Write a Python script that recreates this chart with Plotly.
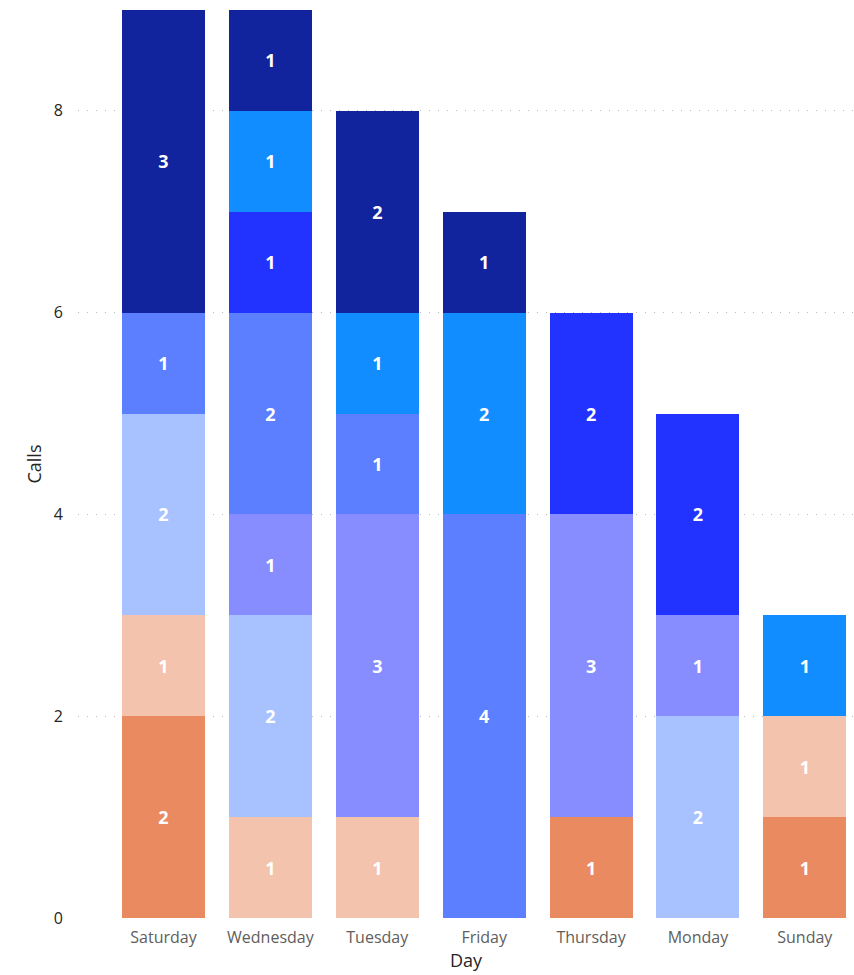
import plotly.graph_objects as go

days = ["Saturday", "Wednesday", "Tuesday", "Friday", "Thursday", "Monday", "Sunday"]

series_names = ["Group 1", "Group 2", "Group 3", "Group 4", "Group 5", "Group 6", "Group 7", "Group 8"]
g1 = [2, None, None, None, 1, None, 1]
g2 = [1, 1, 1, None, None, None, 1]
g3 = [2, 2, None, None, None, 2, None]
g4 = [None, 1, 3, None, 3, 1, None]
g5 = [1, 2, 1, 4, None, None, None]
g6 = [None, 1, None, None, 2, 2, None]
g7 = [None, 1, 1, 2, None, None, 1]
g8 = [3, 1, 2, 1, None, None, None]
values = [g1, g2, g3, g4, g5, g6, g7, g8]
colors = ["#EA8A61", "#F3C3AD", "#A8C2FF", "#878DFF", "#5B7FFF", "#2233FF", "#118DFF", "#12239E"]

font_family = "Segoe UI, Open Sans, sans-serif"

fig = go.Figure()
for name, vals, col in zip(series_names, values, colors):
    fig.add_trace(go.Bar(
        x=days, y=vals, name=name,
        marker=dict(color=col, line=dict(width=0)),
        text=vals, texttemplate="%{y}", textposition="inside",
        insidetextanchor="middle", constraintext="none",
        insidetextfont=dict(color="white", size=18, family=font_family, weight="bold"),
        textfont=dict(color="white", size=18, family=font_family, weight="bold"),
        textangle=0,
    ))

fig.update_layout(
    barmode="stack",
    bargap=0.224,
    width=854, height=975,
    margin=dict(l=78, r=0, t=10, b=57),
    plot_bgcolor="white", paper_bgcolor="white",
    showlegend=False,
    font=dict(family=font_family),
)
fig.update_xaxes(
    range=[-0.8, 6.46],
    showgrid=False, zeroline=False, showline=False,
    tickfont=dict(size=16, color="#605E5C"),
    title=dict(text="Day", font=dict(size=18, color="#252423"), standoff=7),
    ticks="", ticklen=0,
    ticklabelstandoff=8,
)
fig.update_yaxes(
    range=[0, 9],
    tickvals=[0, 2, 4, 6, 8],
    showgrid=True, gridcolor="#BDBDBD", griddash="1px,8px", gridwidth=1,
    zeroline=False, showline=False,
    tickfont=dict(size=16, color="#252423"),
    title=dict(text="Calls", font=dict(size=18, color="#252423"), standoff=7),
    ticklabelstandoff=14,
)

fig.write_html("out.html")
